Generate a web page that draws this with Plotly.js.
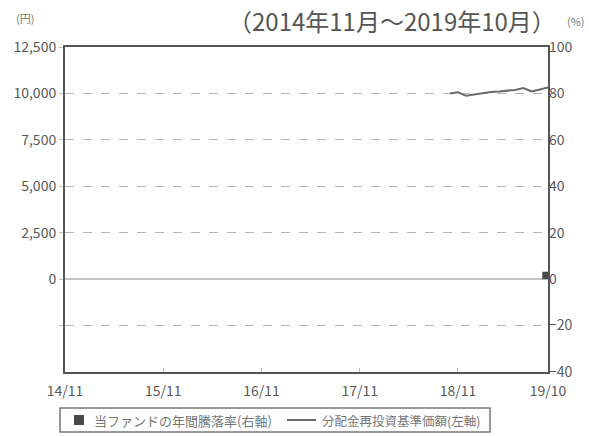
<!DOCTYPE html>
<html><head><meta charset="utf-8">
<script src="https://cdn.plot.ly/plotly-3.0.1.min.js"></script>
<style>html,body{margin:0;padding:0;background:#fff}#c{width:589px;height:436px}</style>
</head><body><div id="c"></div>
<script>
// x categories: months from 2014-11 to 2019-10
const startYear = 2014, startMonth = 11, monthCount = 60;
const months = [];
for (let i = 0; i < monthCount; i++) {
  const m = (startMonth - 1 + i) % 12 + 1;
  const y = startYear + Math.floor((startMonth - 1 + i) / 12);
  months.push(y + '-' + String(m).padStart(2, '0'));
}
const xTickVals = ['2014-11', '2015-11', '2016-11', '2017-11', '2018-11', '2019-10'];
const xTickText = ['14/11', '15/11', '16/11', '17/11', '18/11', '19/10'];

// 分配金再投資基準価額 (left axis, yen)
const navMonths = ['2018-10','2018-11','2018-12','2019-01','2019-02','2019-03','2019-04','2019-05','2019-06','2019-07','2019-08','2019-09','2019-10'];
const navValues = [10000, 10060, 9870, 9950, 10030, 10080, 10110, 10130, 10190, 10290, 10110, 10210, 10320];

// 年間騰落率 (right axis, %)
const retMonths = ['2019-10'];
const retValues = [3.2];

const leftTickVals = [-2500, 0, 2500, 5000, 7500, 10000, 12500];
const leftTickText = ['', '0', '2,500', '5,000', '7,500', '10,000', '12,500'];
const rightTickVals = [-40, -20, 0, 20, 40, 60, 80, 100];

const legendNames = ['当ファンドの年間騰落率(右軸)', '分配金再投資基準価額(左軸)'];

const FONT = 'Noto Sans CJK JP, Noto Sans, sans-serif';
const TXT = '#5a5a5a';

// page geometry helpers (paper fractions)
const W = 589, H = 436, ML = 65, MR = 41, MT = 47, MB = 64;
const PW = W - ML - MR, PH = H - MT - MB;
const px = p => (p - ML) / PW;
const py = p => (H - MB - p) / PH;

const traces = [
  {type: 'bar', x: retMonths, y: retValues, yaxis: 'y2', name: legendNames[0],
   marker: {color: '#4a4a4a'}, width: 0.7, offset: -0.7, showlegend: false},
  {type: 'scatter', mode: 'lines', x: navMonths, y: navValues, yaxis: 'y', name: legendNames[1],
   line: {color: '#6a6a6a', width: 2}, showlegend: false}
];

const layout = {
  width: W, height: H,
  margin: {l: ML, r: MR, t: MT, b: MB},
  paper_bgcolor: '#fff', plot_bgcolor: '#fff',
  font: {family: FONT, color: TXT, size: 13},
  showlegend: false,
  xaxis: {type: 'category', categoryorder: 'array', categoryarray: months,
          range: [0, 59], tickvals: xTickVals, ticktext: xTickText, automargin: false,
          showline: true, linecolor: '#555', linewidth: 2, mirror: true,
          showgrid: false, ticks: 'inside', ticklen: 4, tickcolor: '#bbb',
          ticklabelstandoff: 5,
          tickfont: {size: 14, color: TXT}, zeroline: false},
  yaxis: {range: [-5000, 12500], tickvals: leftTickVals, ticktext: leftTickText, automargin: false,
          showline: true, linecolor: '#555', linewidth: 2, mirror: true,
          showgrid: true, gridcolor: '#b5b5b5', griddash: 'dash', gridwidth: 1,
          zeroline: true, zerolinecolor: '#c4c4c4', zerolinewidth: 2,
          ticks: 'outside', ticklen: 4, tickcolor: '#bbb',
          tickfont: {size: 14, color: TXT}},
  yaxis2: {range: [-40, 100], tickvals: rightTickVals, overlaying: 'y', side: 'right', automargin: false,
           showgrid: false, zeroline: false, showline: false, ticks: '',
           tickfont: {size: 14, color: TXT}},
  shapes: [
    {type: 'rect', xref: 'paper', yref: 'paper', x0: px(60), x1: px(490), y0: py(408), y1: py(432),
     line: {color: '#777', width: 1.5}, fillcolor: 'rgba(0,0,0,0)'},
    {type: 'rect', xref: 'paper', yref: 'paper', x0: px(74), x1: px(84), y0: py(415), y1: py(425),
     line: {width: 0}, fillcolor: '#4a4a4a'},
    {type: 'line', xref: 'paper', yref: 'paper', x0: px(287), x1: px(316), y0: py(420), y1: py(420),
     line: {color: '#6a6a6a', width: 2}}
  ],
  annotations: [
    {text: '（2014年11月～2019年10月）', xref: 'paper', yref: 'paper', x: px(392), y: py(21),
     xanchor: 'center', yanchor: 'middle', showarrow: false, font: {size: 24, color: '#555'}},
    {text: '(円)', xref: 'paper', yref: 'paper', x: px(25), y: py(18),
     xanchor: 'center', yanchor: 'middle', showarrow: false, font: {size: 11, color: '#777'}},
    {text: '(%)', xref: 'paper', yref: 'paper', x: px(576), y: py(21),
     xanchor: 'center', yanchor: 'middle', showarrow: false, font: {size: 11, color: '#777'}},
    {text: legendNames[0], xref: 'paper', yref: 'paper', x: px(92), y: py(420),
     xanchor: 'left', yanchor: 'middle', showarrow: false, font: {size: 13, color: '#777'}},
    {text: legendNames[1], xref: 'paper', yref: 'paper', x: px(320), y: py(420),
     xanchor: 'left', yanchor: 'middle', showarrow: false, font: {size: 12.5, color: '#777'}}
  ]
};

Plotly.newPlot('c', traces, layout, {displayModeBar: false, staticPlot: true});
</script></body></html>
